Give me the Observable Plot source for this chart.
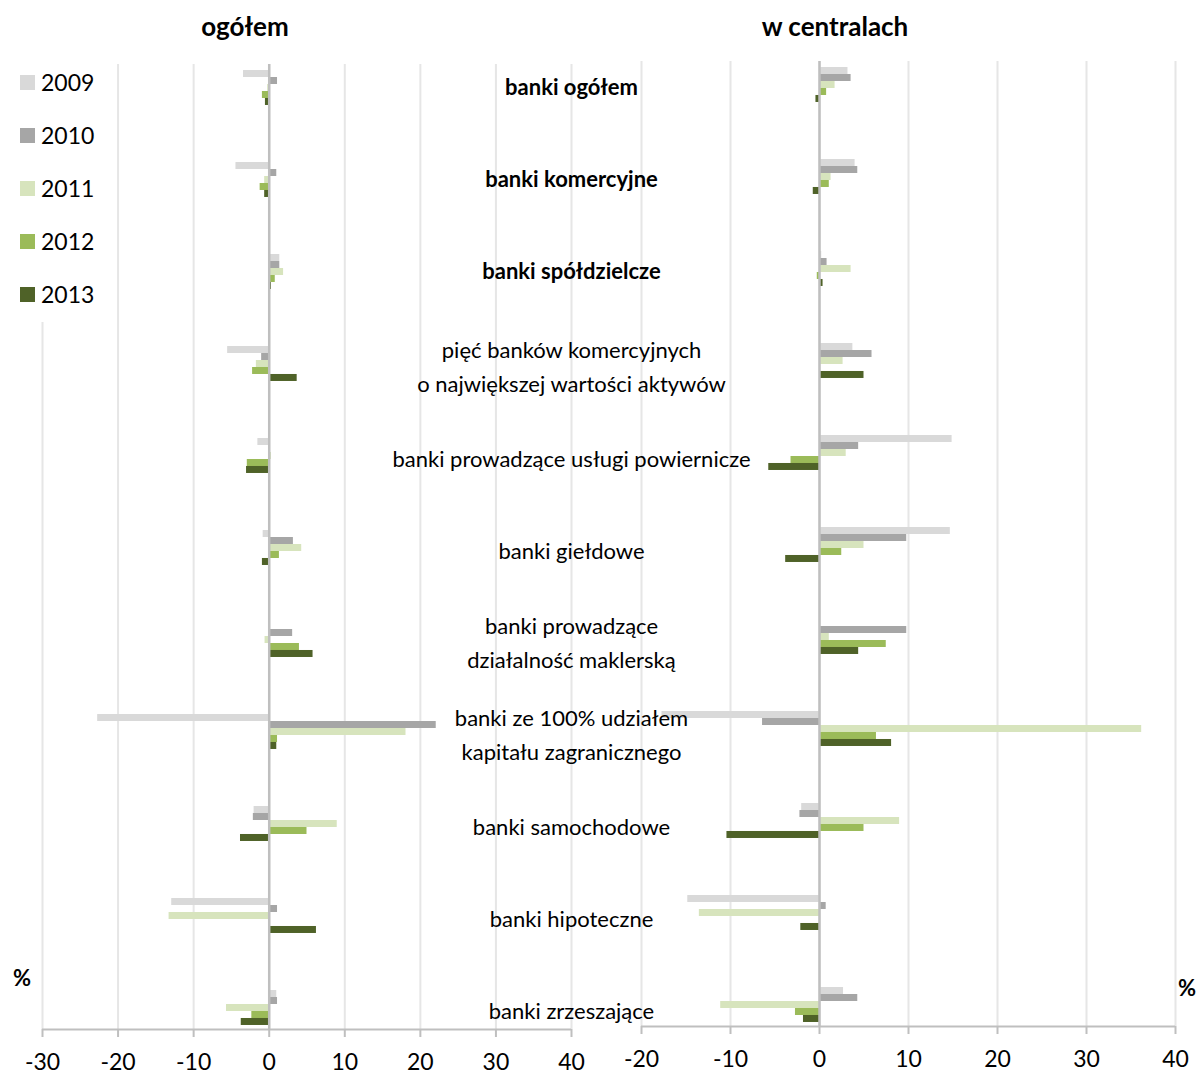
<!DOCTYPE html>
<html lang="pl">
<head>
<meta charset="utf-8">
<script src="https://cdn.jsdelivr.net/npm/d3@7"></script>
<script src="https://cdn.jsdelivr.net/npm/@observablehq/plot@0.6"></script>
<style>
  html, body { margin: 0; padding: 0; background: #fff; }
  #chart { position: relative; width: 1199px; height: 1075px; font-family: Lato, "Open Sans", sans-serif; color: #000; }
  #chart svg { position: absolute; left: 0; top: 0; }
  .title { position: absolute; top: 10px; font-size: 26px; font-weight: bold; transform: translateX(-50%); white-space: nowrap; }
  .unit { position: absolute; font-size: 22px; font-weight: bold; transform: translate(-50%, -50%); }
  #legend { position: absolute; left: 0; top: 60px; width: 106px; height: 262px; background: #fff; z-index: 3; }
  .item { position: absolute; left: 20px; height: 30px; display: flex; align-items: center; font-size: 23px; }
  .item span.sw { width: 15px; height: 15px; margin-right: 6px; display: inline-block; }
</style>
</head>
<body>
<div id="chart"></div>
<script>
// Bank groups (top to bottom)
const categories = [
  "banki ogółem",
  "banki komercyjne",
  "banki spółdzielcze",
  "pięć banków komercyjnych\no największej wartości aktywów",
  "banki prowadzące usługi powiernicze",
  "banki giełdowe",
  "banki prowadzące\ndziałalność maklerską",
  "banki ze 100% udziałem\nkapitału zagranicznego",
  "banki samochodowe",
  "banki hipoteczne",
  "banki zrzeszające"
];
const headlineCategories = ["banki ogółem", "banki komercyjne", "banki spółdzielcze"];

const years = ["2009", "2010", "2011", "2012", "2013"];
const yearColors = ["#d9d9d9", "#a6a6a6", "#d7e4bd", "#9bbb59", "#4f6228"];

// Change in employment, % — total ("ogółem")
const ogolem2009 = [-3.4, -4.4, 1.4, -5.5, -1.5, -0.8, 0, -22.7, -2.0, -12.9, 1.0];
const ogolem2010 = [1.1, 1.0, 1.4, -1.0, 0, 3.2, 3.1, 22.1, -2.1, 1.1, 1.1];
const ogolem2011 = [-0.2, -0.6, 1.9, -1.7, 0.3, 4.3, -0.55, 18.1, 9.0, -13.25, -5.65];
const ogolem2012 = [-0.9, -1.2, 0.8, -2.2, -2.9, 1.35, 4.0, 1.1, 5.0, 0, -2.3];
const ogolem2013 = [-0.5, -0.6, 0.3, 3.7, -3.0, -0.9, 5.8, 1.0, -3.8, 6.25, -3.7];

// Change in employment, % — head offices ("w centralach")
const centrale2009 = [3.2, 4.0, 0.25, 3.75, 14.9, 14.7, 0, -17.7, -2.0, -14.8, 2.7];
const centrale2010 = [3.55, 4.3, 0.85, 5.9, 4.4, 9.8, 9.8, -6.4, -2.2, 0.75, 4.3];
const centrale2011 = [1.75, 1.3, 3.55, 2.65, 3.0, 5.0, 1.1, 36.2, 9.0, -13.5, -11.1];
const centrale2012 = [0.8, 1.1, -0.25, 0, -3.2, 2.5, 7.5, 6.4, 5.0, 0, -2.7];
const centrale2013 = [-0.4, -0.7, 0.4, 5.0, -5.7, -3.8, 4.4, 8.1, -10.4, -2.1, -1.8];

const ticksOgolem = [-30, -20, -10, 0, 10, 20, 30, 40];
const ticksCentrale = [-20, -10, 0, 10, 20, 30, 40];

// Vertical layout in category-index units: each group is one unit,
// each year's bar takes a slice of it.
const BAR = 0.076;
const Y_DOMAIN = [-0.2554, 10.2337];

function toRows(series) {
  return series.flatMap((vals, j) =>
    vals.map((v, i) => ({index: i, year: years[j], slot: j, value: v})));
}

const categoryRows = categories.map((c, i) => ({index: i, label: c, bold: headlineCategories.includes(c)}));

function panel({series, ticks, marginLeft, marginRight, marginTop, marginBottom, withLabels}) {
  const data = toRows(series);
  const marks = [
    Plot.gridX(ticks, {stroke: "#e6e6e6", strokeOpacity: 1, strokeWidth: 2}),
    Plot.rect(data, {
      x1: () => 0,
      x2: "value",
      y1: d => d.index + (d.slot - 2.5) * BAR,
      y2: d => d.index + (d.slot - 1.5) * BAR,
      fill: "year"
    }),
    Plot.ruleX([0], {stroke: "#bfbfbf", strokeWidth: 2.5}),
    Plot.ruleY([Y_DOMAIN[1]], {stroke: "#bfbfbf", strokeWidth: 2}),
    Plot.axisX(ticks, {
      anchor: "bottom", tickSize: 8, tickPadding: 16, stroke: "#bfbfbf", strokeWidth: 2,
      fill: "#000", fontSize: 23, tickFormat: d => String(d), label: null
    })
  ];
  if (withLabels) {
    marks.push(
      Plot.text(categoryRows.filter(d => !d.bold), {
        y: "index", text: "label", frameAnchor: "right", textAnchor: "middle",
        fontSize: 22, lineHeight: 1.55, fill: "#000"
      }),
      Plot.text(categoryRows.filter(d => d.bold), {
        y: "index", text: "label", frameAnchor: "right", textAnchor: "middle",
        fontSize: 22, fontWeight: "bold", fill: "#000"
      })
    );
  }
  return Plot.plot({
    width: 1199,
    height: 1075,
    marginLeft, marginRight, marginTop, marginBottom,
    style: {background: "transparent", overflow: "visible", fontFamily: "Lato, 'Open Sans', sans-serif"},
    x: {domain: [ticks[0], ticks[ticks.length - 1]], axis: null},
    y: {domain: Y_DOMAIN, reverse: true, axis: null},
    color: {domain: years, range: yearColors},
    marks
  });
}

const chart = document.getElementById("chart");

chart.append(panel({
  series: [centrale2009, centrale2010, centrale2011, centrale2012, centrale2013],
  ticks: ticksCentrale,
  marginLeft: 641, marginRight: 24, marginTop: 61, marginBottom: 49,
  withLabels: false
}));

chart.append(panel({
  series: [ogolem2009, ogolem2010, ogolem2011, ogolem2012, ogolem2013],
  ticks: ticksOgolem,
  marginLeft: 42, marginRight: 628, marginTop: 64, marginBottom: 46,
  withLabels: true
}));

// Panel titles
for (const [text, x] of [["ogółem", 245], ["w centralach", 835]]) {
  const t = document.createElement("div");
  t.className = "title";
  t.style.left = x + "px";
  t.textContent = text;
  chart.append(t);
}

// Unit markers
for (const [x, y] of [[22, 977], [1187, 987]]) {
  const u = document.createElement("div");
  u.className = "unit";
  u.style.left = x + "px";
  u.style.top = y + "px";
  u.textContent = "%";
  chart.append(u);
}

// Legend
const legend = document.createElement("div");
legend.id = "legend";
years.forEach((y, k) => {
  const item = document.createElement("div");
  item.className = "item";
  item.style.top = (7 + k * 53) + "px";
  const sw = document.createElement("span");
  sw.className = "sw";
  sw.style.background = yearColors[k];
  item.append(sw, document.createTextNode(y));
  legend.append(item);
});
chart.append(legend);
</script>
</body>
</html>
